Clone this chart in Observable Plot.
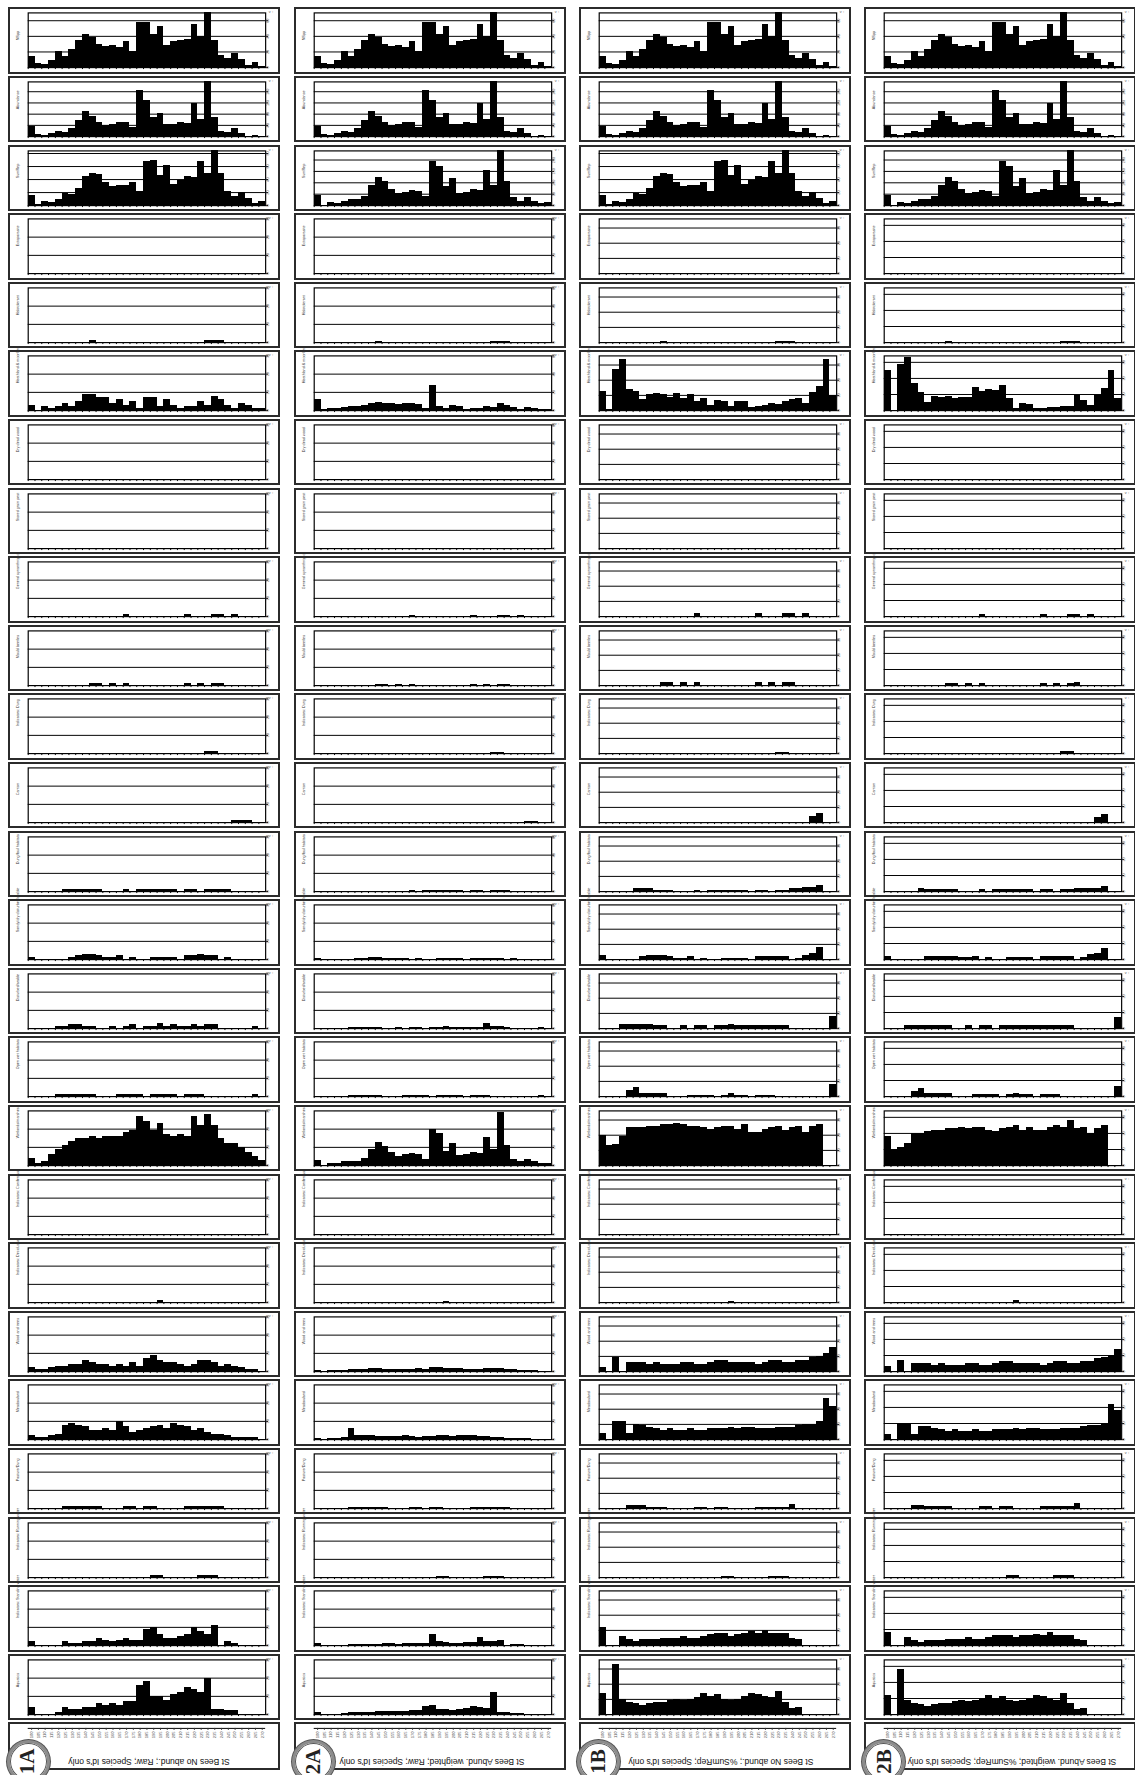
<!DOCTYPE html>
<html><head><meta charset="utf-8">
<script src="https://cdn.jsdelivr.net/npm/d3@7"></script>
<script src="https://cdn.jsdelivr.net/npm/@observablehq/plot@0.6"></script>
<style>
body{margin:0;background:#fff;font-family:"Liberation Sans",Arial,sans-serif;}
#page{position:relative;width:1135px;height:1775px;overflow:hidden;background:#fff;}
.box{position:absolute;box-sizing:border-box;border:2px solid #2b2b2b;width:272px;background:#fff;}
.box svg{position:absolute;left:-2px;top:-2px;}
.title{position:absolute;left:0;width:272px;text-align:center;font-size:8.5px;color:#111;transform:rotate(180deg);white-space:nowrap;}
.badge{position:absolute;width:43px;height:43px;box-sizing:border-box;border-radius:50%;border:3px solid #8c8c8c;box-shadow:0 0 0 1px #555, inset 0 0 0 1px #555;background:#fff;display:flex;align-items:center;justify-content:center;}
.badge span{display:block;transform:rotate(-90deg);font-family:"Liberation Serif","DejaVu Serif",serif;font-weight:bold;font-size:21px;color:#222;}
</style></head><body><div id="page"></div><script>
// ---- categories (samples along x) ----
const samples = ["100","105","110","115","120","125","130","135","140","145","150","155","160","165","170","175","180","185","190","195","200","205","210","215","220","225","230","235","240","245","250","255","260","265","270"];
// ---- row labels ----
const groups = ["NSpp","Abundance","SumRep","Ectoparasite","Halotolerant","Heathland & moorland","Dry dead wood","Stored grain pest","General synanthropic","Mould beetles","Indicators: Dung","Carrion","Dung/foul habitats","Sandy/dry disturbed/arable","Disturbed/arable","Open wet habitats","Wetlands/marshes","Indicators: Coniferous","Indicators: Deciduous","Wood and trees","Meadowland","Pasture/Dung","Indicators: Running water","Indicators: Standing water","Aquatics"];
const badges = ["1A","2A","1B","2B"];
const titles = ["St Bees No abund.; Raw; Species Id's only","St Bees Abund. weighted; Raw; Species Id's only","St Bees No abund.; %SumRep; Species Id's only","St Bees Abund. weighted; %SumRep; Species Id's only"];

// ---- summary series (shared by columns) ----
const nspp = [14,5,4,9,20,14,23,35,42,38,30,27,28,26,33,21,58,58,42,52,28,33,35,36,55,40,70,35,16,12,18,10,3,6,1];
const abundance = [37,6,5,11,18,16,28,58,90,70,51,40,42,52,49,32,166,129,68,84,42,42,49,45,117,61,195,69,19,14,28,10,2,5,1];
const sumRepRaw = [15,2,7,4,10,19,17,27,44,50,48,35,30,31,31,36,21,68,70,46,62,32,39,45,43,68,50,84,50,22,14,20,11,3,7];
const sumRepWeighted = [44,0,13,10,20,25,25,40,88,125,105,72,52,58,66,62,38,195,170,82,118,55,58,70,65,153,88,240,107,34,20,36,19,10,12];

// ---- 1A: No abund.; Raw ----
const a1_ectoparasite = [0,0,0,0,0,0,0,0,0,0,0,0,0,0,0,0,0,0,0,0,0,0,0,0,0,0,0,0,0,0,0,0,0,0,0];
const a1_halotolerant = [0,0,0,0,0,0,0,0,0,1,0,0,0,0,0,0,0,0,0,0,0,0,0,0,0,0,1,1,1,0,0,0,0,0,0];
const a1_heathland = [3,0,2,1,2,4,2,5,9,9,7,7,4,6,3,5,1,7,7,2,6,3,1,2,2,5,3,8,6,3,1,4,3,1,1];
const a1_drywood = [0,0,0,0,0,0,0,0,0,0,0,0,0,0,0,0,0,0,0,0,0,0,0,0,0,0,0,0,0,0,0,0,0,0,0];
const a1_storedgrain = [0,0,0,0,0,0,0,0,0,0,0,0,0,0,0,0,0,0,0,0,0,0,0,0,0,0,0,0,0,0,0,0,0,0,0];
const a1_synanthropic = [0,0,0,0,0,0,0,0,0,0,0,0,0,0,1,0,0,0,0,0,0,0,0,1,0,0,0,1,1,0,1,0,0,0,0];
const a1_mould = [0,0,0,0,0,0,0,0,0,1,1,0,1,0,1,0,0,0,0,0,0,0,0,1,0,1,0,1,1,0,0,0,0,0,0];
const a1_inddung = [0,0,0,0,0,0,0,0,0,0,0,0,0,0,0,0,0,0,0,0,0,0,0,0,0,0,1,1,0,0,0,0,0,0,0];
const a1_carrion = [0,0,0,0,0,0,0,0,0,0,0,0,0,0,0,0,0,0,0,0,0,0,0,0,0,0,0,0,0,0,1,1,1,0,0];
const a1_dungfoul = [0,0,0,0,0,1,1,1,1,1,1,0,0,0,1,0,1,1,1,1,1,1,0,1,1,0,1,1,1,1,0,0,0,0,0];
const a1_sandy = [1,0,0,0,0,0,1,2,3,3,2,1,1,2,0,1,0,0,1,1,1,1,0,2,2,3,2,2,0,1,0,0,0,0,0];
const a1_disturbed = [0,0,0,0,1,1,2,2,1,1,0,0,1,0,1,2,0,1,1,3,1,2,1,1,2,1,2,2,0,0,0,0,0,1,0];
const a1_openwet = [0,0,0,0,1,1,1,1,1,1,0,0,0,1,1,1,1,0,1,1,1,1,0,1,1,1,0,0,0,0,0,0,0,1,0];
const a1_wetlands = [4,1,2,6,9,11,13,15,15,16,15,16,16,16,18,19,27,24,19,23,17,16,17,16,27,22,28,22,15,12,12,10,7,5,3];
const a1_coniferous = [0,0,0,0,0,0,0,0,0,0,0,0,0,0,0,0,0,0,0,0,0,0,0,0,0,0,0,0,0,0,0,0,0,0,0];
const a1_deciduous = [0,0,0,0,0,0,0,0,0,0,0,0,0,0,0,0,0,0,0,1,0,0,0,0,0,0,0,0,0,0,0,0,0,0,0];
const a1_woodtrees = [2,1,1,2,3,3,4,4,6,5,4,4,3,4,3,5,3,7,9,6,5,5,4,3,4,6,6,5,3,4,3,2,1,1,0];
const a1_meadow = [2,1,1,2,3,8,9,8,7,5,5,6,5,10,7,4,5,6,7,8,6,9,8,7,5,6,4,3,3,2,1,1,1,1,0];
const a1_pasture = [0,0,0,0,0,1,1,1,1,1,1,0,0,0,1,1,0,1,1,0,0,0,0,1,1,1,1,1,1,0,0,0,0,0,0];
const a1_running = [0,0,0,0,0,0,0,0,0,0,0,0,0,0,0,0,0,0,1,1,0,0,0,0,0,1,1,1,0,0,0,0,0,0,0];
const a1_standing = [2,0,0,0,0,2,1,1,2,2,4,3,2,3,4,3,3,9,10,6,4,4,5,6,10,8,6,11,0,2,1,0,0,0,0];
const a1_aquatics = [4,0,0,0,1,4,3,3,4,4,6,5,6,5,7,7,16,18,10,10,8,11,12,15,14,12,20,3,3,2,2,0,0,0,0];

// ---- 2A: Abund. weighted; Raw ----
const a2_ectoparasite = [0,0,0,0,0,0,0,0,0,0,0,0,0,0,0,0,0,0,0,0,0,0,0,0,0,0,0,0,0,0,0,0,0,0,0];
const a2_halotolerant = [0,0,0,0,0,0,0,0,0,1,0,0,0,0,0,0,0,0,0,0,0,0,0,0,0,0,1,1,1,0,0,0,0,0,0];
const a2_heathland = [12,1,2,2,3,4,5,6,8,9,8,8,7,8,8,7,2,28,5,2,6,4,1,2,2,5,3,8,6,3,1,3,2,1,1];
const a2_drywood = [0,0,0,0,0,0,0,0,0,0,0,0,0,0,0,0,0,0,0,0,0,0,0,0,0,0,0,0,0,0,0,0,0,0,0];
const a2_storedgrain = [0,0,0,0,0,0,0,0,0,0,0,0,0,0,0,0,0,0,0,0,0,0,0,0,0,0,0,0,0,0,0,0,0,0,0];
const a2_synanthropic = [0,0,0,0,0,0,0,0,0,0,0,0,0,0,1,0,0,0,0,0,0,0,0,1,0,0,0,1,1,0,1,0,0,0,0];
const a2_mould = [0,0,0,0,0,0,0,0,0,1,1,0,1,0,1,0,0,0,0,0,0,0,0,1,0,1,0,1,1,0,0,0,0,0,0];
const a2_inddung = [0,0,0,0,0,0,0,0,0,0,0,0,0,0,0,0,0,0,0,0,0,0,0,0,0,0,1,1,0,0,0,0,0,0,0];
const a2_carrion = [0,0,0,0,0,0,0,0,0,0,0,0,0,0,0,0,0,0,0,0,0,0,0,0,0,0,0,0,0,0,0,1,1,0,0];
const a2_dungfoul = [0,0,0,0,0,0,0,0,0,0,0,0,0,0,1,0,1,1,1,1,1,1,0,1,1,0,1,1,1,0,0,0,0,0,0];
const a2_sandy = [1,0,0,0,0,0,1,1,2,2,1,1,1,1,0,1,0,0,1,1,1,1,0,1,1,1,1,1,0,1,0,0,0,0,0];
const a2_disturbed = [0,0,0,0,0,1,1,1,1,1,0,0,1,0,1,1,0,1,1,2,1,1,1,1,1,6,2,2,1,0,0,0,0,1,0];
const a2_openwet = [0,0,0,0,0,1,1,1,1,1,0,0,0,1,1,1,1,0,1,1,1,1,0,1,1,1,0,0,0,0,0,0,0,1,0];
const a2_wetlands = [6,0,2,2,4,5,5,8,18,25,21,14,10,12,13,12,7,40,35,16,24,11,12,14,13,31,18,58,22,7,4,7,4,2,2];
const a2_coniferous = [0,0,0,0,0,0,0,0,0,0,0,0,0,0,0,0,0,0,0,0,0,0,0,0,0,0,0,0,0,0,0,0,0,0,0];
const a2_deciduous = [0,0,0,0,0,0,0,0,0,0,0,0,0,0,0,0,0,0,0,1,0,0,0,0,0,0,0,0,0,0,0,0,0,0,0];
const a2_woodtrees = [1,0,1,1,1,2,2,2,3,3,2,2,2,2,2,3,2,4,5,3,3,3,2,2,2,3,3,3,2,2,1,1,1,0,0];
const a2_meadow = [1,0,1,1,2,12,5,5,4,3,3,3,3,5,3,2,3,3,4,4,3,5,4,4,3,3,2,2,1,1,1,1,0,0,0];
const a2_pasture = [0,0,0,0,0,1,1,1,1,1,1,0,0,0,1,1,0,1,1,0,0,0,0,1,1,1,1,1,1,0,0,0,0,0,0];
const a2_running = [0,0,0,0,0,0,0,0,0,0,0,0,0,0,0,0,0,0,1,1,0,0,0,0,0,1,1,1,0,0,0,0,0,0,0];
const a2_standing = [2,0,0,0,0,1,1,1,1,1,2,2,1,2,2,2,2,12,5,3,2,2,3,3,9,5,4,6,0,1,1,0,0,0,0];
const a2_aquatics = [2,0,0,0,1,2,2,2,2,3,3,3,3,3,4,4,9,10,6,6,5,6,7,9,8,7,24,2,2,1,1,0,0,0,0];

// ---- 1B: No abund.; %SumRep ----
const b1_ectoparasite = [0,0,0,0,0,0,0,0,0,0,0,0,0,0,0,0,0,0,0,0,0,0,0,0,0,0,0,0,0,0,0,0,0,0,0];
const b1_halotolerant = [0,0,0,0,0,0,0,0,0,1,0,0,0,0,0,0,0,0,0,0,0,0,0,0,0,0,1,1,1,0,0,0,0,0,0];
const b1_heathland = [12.3,0.6,27,33.8,14,12.7,7.5,10.3,11.4,10.3,8.6,11.4,8.2,10.8,6,8,3.4,6.5,6,2.8,5.8,5.8,1.9,3,3.2,4.5,4.1,5.8,7.3,7.7,4.7,11.6,15.7,33.5,10];
const b1_drywood = [0,0,0,0,0,0,0,0,0,0,0,0,0,0,0,0,0,0,0,0,0,0,0,0,0,0,0,0,0,0,0,0,0,0,0];
const b1_storedgrain = [0,0,0,0,0,0,0,0,0,0,0,0,0,0,0,0,0,0,0,0,0,0,0,0,0,0,0,0,0,0,0,0,0,0,0];
const b1_synanthropic = [0,0,0,0,0,0,0,0,0,0,0,0,0,0,2,0,0,0,0,0,0,0,0,2,0,0,0,2,2,0,2,0,0,0,0];
const b1_mould = [0,0,0,0,0,0,0,0,0,2,2,0,2,0,2,0,0,0,0,0,0,0,0,2,0,2,0,2,2,0,0,0,0,0,0];
const b1_inddung = [0,0,0,0,0,0,0,0,0,0,0,0,0,0,0,0,0,0,0,0,0,0,0,0,0,0,1,1,0,0,0,0,0,0,0];
const b1_carrion = [0,0,0,0,0,0,0,0,0,0,0,0,0,0,0,0,0,0,0,0,0,0,0,0,0,0,0,0,0,0,0,4,6,0,0];
const b1_dungfoul = [0,0,0,0,0,2,2,2,1,1,1,0,0,0,1,0,1,1,1,1,1,1,0,1,1,0,1,1,2,2,3,3,4,0,0];
const b1_sandy = [3,0,0,0,0,0,2,3,3,3,2,1,1,2,0,1,0,0,1,1,1,1,0,2,2,2,2,2,0,1,3,4,8,0,0];
const b1_disturbed = [0,0,0,3,3,3,3,3,2,2,0,0,2,0,2,2,0,2,2,3,2,2,2,2,2,2,2,2,0,0,0,0,0,0,8];
const b1_openwet = [0,0,0,0,4,6,2,2,2,2,0,0,0,1,1,1,1,0,1,2,1,1,0,1,1,1,0,0,0,0,0,0,0,0,8];
const b1_wetlands = [20,13,14,19,25,25,25,26,26,27,27,28,27,26,26,25,24,25,26,26,24,27,22,22,24,25,26,23,25,26,22,26,27,0,0];
const b1_coniferous = [0,0,0,0,0,0,0,0,0,0,0,0,0,0,0,0,0,0,0,0,0,0,0,0,0,0,0,0,0,0,0,0,0,0,0];
const b1_deciduous = [0,0,0,0,0,0,0,0,0,0,0,0,0,0,0,0,0,0,0,1,0,0,0,0,0,0,0,0,0,0,0,0,0,0,0];
const b1_woodtrees = [3,0,9,0,6,6,6,5,6,5,5,5,6,6,5,5,6,7,7,6,6,6,6,5,6,7,7,6,6,7,7,9,10,12,16];
const b1_meadow = [4,0,12,12,4,10,9,8,7,6,7,6,6,7,6,6,7,7,7,8,7,8,8,7,7,7,8,8,8,9,10,10,12,27,22];
const b1_pasture = [0,0,0,0,2,2,2,1,1,1,0,0,0,0,1,1,0,1,1,0,0,0,0,1,1,1,1,1,3,0,0,0,0,0,0];
const b1_running = [0,0,0,0,0,0,0,0,0,0,0,0,0,0,0,0,0,0,1,1,0,0,0,0,0,1,1,1,0,0,0,0,0,0,0];
const b1_standing = [12,0,0,6,4,3,4,4,4,5,5,5,6,5,5,6,7,8,8,6,7,8,9,8,10,8,8,8,5,4,0,0,0,0,0];
const b1_aquatics = [14,0,33,10,8,7,6,7,8,8,9,10,9,10,11,14,12,13,10,9,10,12,14,13,12,11,15,8,4,5,0,0,0,0,0];

// ---- 2B: Abund. weighted; %SumRep ----
const b2_ectoparasite = [0,0,0,0,0,0,0,0,0,0,0,0,0,0,0,0,0,0,0,0,0,0,0,0,0,0,0,0,0,0,0,0,0,0,0];
const b2_halotolerant = [0,0,0,0,0,0,0,0,0,0.5,0,0,0,0,0,0,0,0,0,0,0,0,0,0,0,0,0.5,0.5,0.5,0,0,0,0,0,0];
const b2_heathland = [25,0,28.8,33.3,17,11,5.3,8.8,8.4,8.6,7.8,8,8.2,14.5,12,12.9,12.4,15.3,7.6,1.2,4.3,3.7,1.4,1.6,1.8,2.2,2.4,2.6,9.2,6.3,3.3,9.4,13.5,25,7.8];
const b2_drywood = [0,0,0,0,0,0,0,0,0,0,0,0,0,0,0,0,0,0,0,0,0,0,0,0,0,0,0,0,0,0,0,0,0,0,0];
const b2_storedgrain = [0,0,0,0,0,0,0,0,0,0,0,0,0,0,0,0,0,0,0,0,0,0,0,0,0,0,0,0,0,0,0,0,0,0,0];
const b2_synanthropic = [0,0,0,0,0,0,0,0,0,0,0,0,0,0,1,0,0,0,0,0,0,0,0,1,0,0,0,1,1,0,1,0,0,0,0];
const b2_mould = [0,0,0,0,0,0,0,0,0,1,1,0,1,0,1,0,0,0,0,0,0,0,0,1,0,1,0,1,2,0,0,0,0,0,0];
const b2_inddung = [0,0,0,0,0,0,0,0,0,0,0,0,0,0,0,0,0,0,0,0,0,0,0,0,0,0,1,1,0,0,0,0,0,0,0];
const b2_carrion = [0,0,0,0,0,0,0,0,0,0,0,0,0,0,0,0,0,0,0,0,0,0,0,0,0,0,0,0,0,0,0,3,5,0,0];
const b2_dungfoul = [0,0,0,0,0,2,1,1,1,1,1,0,0,0,1,0,1,1,1,1,1,1,0,1,1,0,1,1,2,2,2,2,3,0,0];
const b2_sandy = [2,0,0,0,0,0,2,2,2,2,2,1,1,2,0,1,0,0,1,1,1,1,0,2,2,2,2,2,0,1,3,4,7,0,0];
const b2_disturbed = [0,0,0,2,2,2,2,2,2,2,0,0,2,0,2,2,0,2,2,2,2,2,2,2,2,2,2,2,0,0,0,0,0,0,7];
const b2_openwet = [0,0,0,0,3,5,2,2,2,2,0,0,0,1,1,1,1,0,1,2,1,1,0,1,1,1,0,0,0,0,0,0,0,0,6];
const b2_wetlands = [18,10,11,14,20,20,21,22,22,23,23,24,23,24,24,22,21,23,24,25,22,24,22,22,24,25,24,28,23,24,20,23,25,0,0];
const b2_coniferous = [0,0,0,0,0,0,0,0,0,0,0,0,0,0,0,0,0,0,0,0,0,0,0,0,0,0,0,0,0,0,0,0,0,0,0];
const b2_deciduous = [0,0,0,0,0,0,0,0,0,0,0,0,0,0,0,0,0,0,0,1,0,0,0,0,0,0,0,0,0,0,0,0,0,0,0];
const b2_woodtrees = [3,0,7,0,5,5,5,4,5,4,4,4,5,5,4,4,5,6,6,5,5,5,5,4,5,6,6,5,5,6,6,8,9,10,14];
const b2_meadow = [3,0,10,10,3,8,8,7,6,5,6,5,5,6,5,5,6,6,6,7,6,7,7,6,6,6,7,7,7,8,9,9,10,22,18];
const b2_pasture = [0,0,0,0,2,2,1,1,1,1,0,0,0,0,1,1,0,1,1,0,0,0,0,1,1,1,1,1,3,0,0,0,0,0,0];
const b2_running = [0,0,0,0,0,0,0,0,0,0,0,0,0,0,0,0,0,0,1,1,0,0,0,0,0,1,1,1,0,0,0,0,0,0,0];
const b2_standing = [8,0,0,5,3,2,3,3,3,4,4,4,5,4,4,5,6,6,6,5,6,6,7,6,8,6,6,6,4,3,0,0,0,0,0];
const b2_aquatics = [12,0,28,9,7,6,5,6,7,7,8,9,8,9,10,12,10,11,9,8,9,10,12,11,10,9,13,7,3,4,0,0,0,0,0];

// ---- y axis settings (domain top and tick values) ----
const yNspp = {max: 70, ticks: [0,20,40,60]};
const yAbund = {max: 195, ticks: [0,40,80,120,160]};
const ySumRaw = {max: 84, ticks: [0,20,40,60,80]};
const ySumW = {max: 240, ticks: [0,50,100,150,200]};
const yGroupCols = [{max:30,ticks:[0,10,20,30]},{max:60,ticks:[0,20,40,60]},{max:36,ticks:[0,10,20,30]},{max:34,ticks:[0,10,20,30]}];

const columns = [
  [nspp, abundance, sumRepRaw, a1_ectoparasite,a1_halotolerant,a1_heathland,a1_drywood,a1_storedgrain,a1_synanthropic,a1_mould,a1_inddung,a1_carrion,a1_dungfoul,a1_sandy,a1_disturbed,a1_openwet,a1_wetlands,a1_coniferous,a1_deciduous,a1_woodtrees,a1_meadow,a1_pasture,a1_running,a1_standing,a1_aquatics],
  [nspp, abundance, sumRepWeighted, a2_ectoparasite,a2_halotolerant,a2_heathland,a2_drywood,a2_storedgrain,a2_synanthropic,a2_mould,a2_inddung,a2_carrion,a2_dungfoul,a2_sandy,a2_disturbed,a2_openwet,a2_wetlands,a2_coniferous,a2_deciduous,a2_woodtrees,a2_meadow,a2_pasture,a2_running,a2_standing,a2_aquatics],
  [nspp, abundance, sumRepRaw, b1_ectoparasite,b1_halotolerant,b1_heathland,b1_drywood,b1_storedgrain,b1_synanthropic,b1_mould,b1_inddung,b1_carrion,b1_dungfoul,b1_sandy,b1_disturbed,b1_openwet,b1_wetlands,b1_coniferous,b1_deciduous,b1_woodtrees,b1_meadow,b1_pasture,b1_running,b1_standing,b1_aquatics],
  [nspp, abundance, sumRepWeighted, b2_ectoparasite,b2_halotolerant,b2_heathland,b2_drywood,b2_storedgrain,b2_synanthropic,b2_mould,b2_inddung,b2_carrion,b2_dungfoul,b2_sandy,b2_disturbed,b2_openwet,b2_wetlands,b2_coniferous,b2_deciduous,b2_woodtrees,b2_meadow,b2_pasture,b2_running,b2_standing,b2_aquatics]
];

// ---- layout ----
const page = document.getElementById("page");
const colLeft = c => 8.3 + c * 285.2;
const rowTop = r => 7.3 + r * 68.6;
const W = 272, H = 66.5;
const ML = 20, MR = 11, MT = 5.5, MB = 5.5;
const bw = (W - ML - MR) / samples.length;
const FONT = "Liberation Sans, Arial, sans-serif";

function yFor(c, r) {
  if (r === 0) return yNspp;
  if (r === 1) return yAbund;
  if (r === 2) return (c === 0 || c === 2) ? ySumRaw : ySumW;
  return yGroupCols[c];
}

function panel(values, label, ys) {
  const data = samples.map((s, i) => ({s, v: values[i]}));
  return Plot.plot({
    width: W, height: H,
    marginLeft: ML, marginRight: MR, marginTop: MT, marginBottom: MB,
    style: {fontFamily: FONT, background: "transparent", overflow: "visible", color: "#222"},
    x: {type: "band", domain: samples, padding: 0, axis: null},
    y: {domain: [0, ys.max], axis: null},
    marks: [
      Plot.ruleY(ys.ticks.slice(1).filter(t => t < ys.max), {stroke: "#000", strokeWidth: 1}),
      Plot.barY(data, {x: "s", y: "v", fill: "#000", shapeRendering: "crispEdges"}),
      Plot.frame({stroke: "#000", strokeWidth: 1.2}),
      Plot.axisY(ys.ticks, {anchor: "right", tickSize: 2, tickPadding: 1.5, fontSize: 3.8, tickRotate: -90, fill: "#555", stroke: "#000"}),
      Plot.axisX({anchor: "bottom", tickSize: 2, fill: "none", label: null, dx: -bw / 2, stroke: "#000"}),
      Plot.text([label], {text: d => d, frameAnchor: "left", rotate: -90, dx: -11, fontSize: 3.8, fill: "#333"})
    ]
  });
}

function axisPanel() {
  return Plot.plot({
    width: W, height: 48.5,
    marginLeft: ML, marginRight: MR, marginTop: 0, marginBottom: 42.5,
    style: {fontFamily: FONT, background: "transparent", overflow: "visible", color: "#333"},
    x: {type: "band", domain: samples, padding: 0, axis: null},
    y: {domain: [0, 1], axis: null},
    marks: [
      Plot.ruleY([0], {stroke: "#000"}),
      Plot.axisX({anchor: "bottom", tickSize: 2, tickPadding: 1, tickRotate: -90, fontSize: 4.2, label: null, fill: "#555"})
    ]
  });
}

const titleCenters = [139, 136, 140.5, 146];
columns.forEach((series, c) => {
  series.forEach((vals, r) => {
    const div = document.createElement("div");
    div.className = "box";
    div.style.left = colLeft(c) + "px";
    div.style.top = rowTop(r) + "px";
    div.style.height = H + "px";
    div.appendChild(panel(vals, groups[r], yFor(c, r)));
    page.appendChild(div);
  });
  const bottom = document.createElement("div");
  bottom.className = "box";
  bottom.style.left = colLeft(c) + "px";
  bottom.style.top = "1721.7px";
  bottom.style.height = "48.5px";
  bottom.appendChild(axisPanel());
  const t = document.createElement("div");
  t.className = "title";
  t.textContent = titles[c];
  t.style.top = "33px";
  t.style.left = (titleCenters[c] - 136) + "px";
  bottom.appendChild(t);
  page.appendChild(bottom);
  const b = document.createElement("div");
  b.className = "badge";
  b.style.left = (colLeft(c) - 1.5) + "px";
  b.style.top = "1740px";
  const sp = document.createElement("span");
  sp.textContent = badges[c];
  b.appendChild(sp);
  page.appendChild(b);
});
</script></body></html>
